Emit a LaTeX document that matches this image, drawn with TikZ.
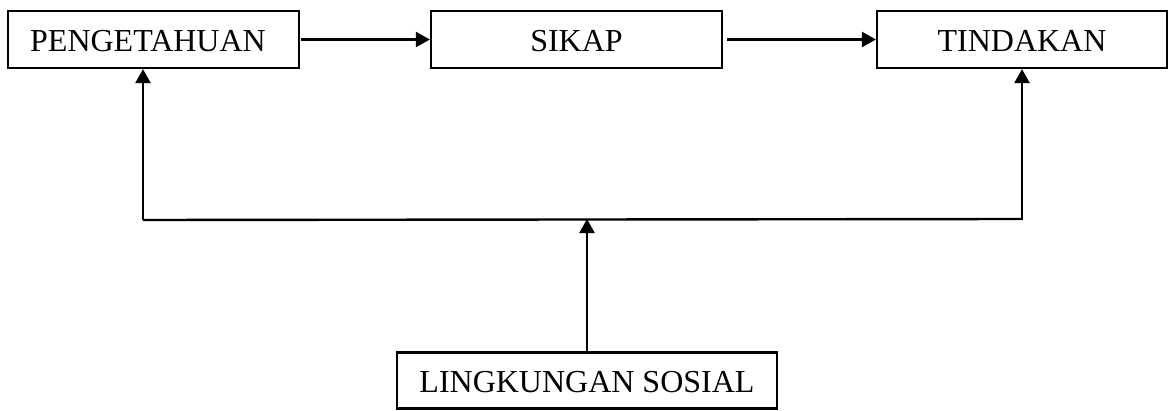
\documentclass[tikz,border=0pt]{standalone}
\usepackage{fontspec}
\setmainfont{Liberation Serif}
\usetikzlibrary{arrows.meta}
\begin{document}
\begin{tikzpicture}[x=1pt,y=1pt,
  box/.style={draw,line width=2.2pt,inner sep=0pt,minimum height=57pt,
    text height=26pt,text depth=1.8pt,
    font=\fontsize{32}{38}\selectfont},
  conn/.style={line width=2.4pt},
  arr/.style={conn,-{Triangle[length=14pt,width=15pt]}}]
\useasboundingbox (0,0) rectangle (1169,410);
\node[box,minimum width=291pt] (peng) at (153.5,370.5) {\hspace*{-11pt}PENGETAHUAN};
\node[box,minimum width=291pt] (sikap) at (576.5,370.5) {SIKAP};
\node[box,minimum width=290pt] (tind) at (1022,370.5) {TINDAKAN};
\node[box,minimum width=380pt,minimum height=56pt] (ls) at (587,29.5) {LINGKUNGAN SOSIAL};
\coordinate (jl) at (143,191);
\coordinate (jr) at (1022,191);
\coordinate (jc) at (587,191);
\draw[arr] ([xshift=1pt]peng.east) -- (sikap.west);
\draw[arr] ([xshift=4pt]sikap.east) -- (tind.west);
\draw[conn] ([yshift=-1pt]jl) -- (jr);
\draw[arr] ([yshift=-1pt]jl) -- (jl |- peng.south);
\draw[arr] ([yshift=-1pt]jr) -- (tind.south);
\draw[arr] (ls.north) -- (jc);
\end{tikzpicture}
\end{document}
